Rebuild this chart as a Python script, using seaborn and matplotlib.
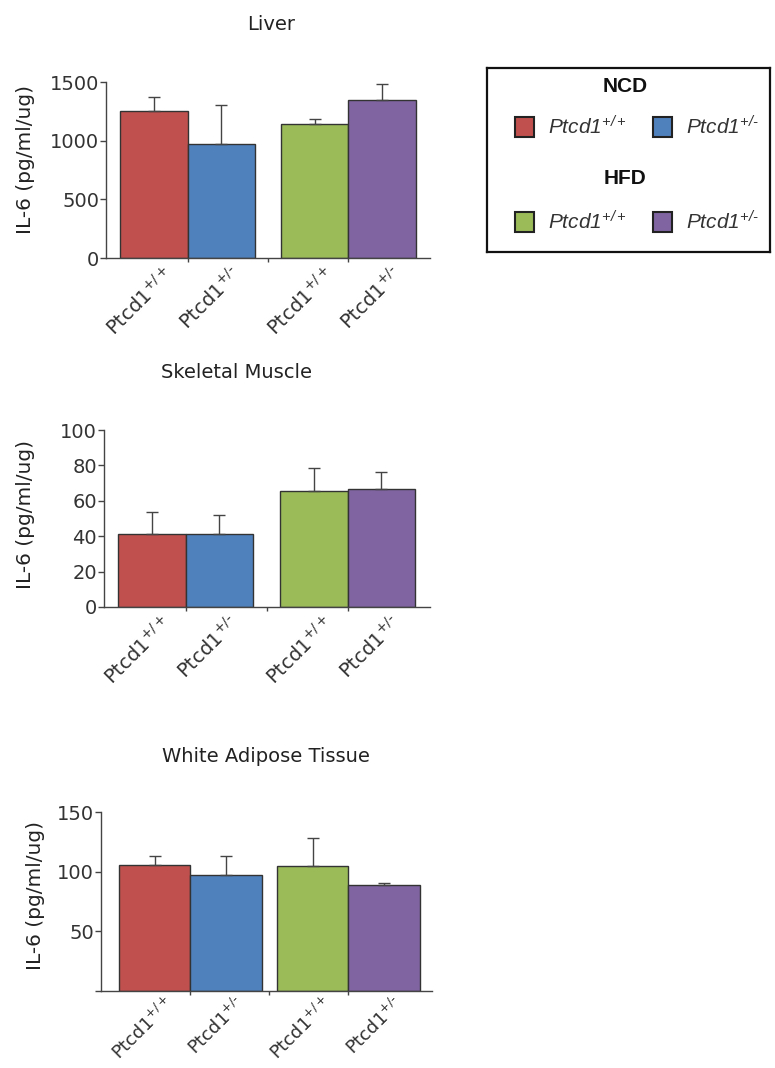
import matplotlib
matplotlib.use("Agg")
import matplotlib.pyplot as plt
import matplotlib.transforms as mtransforms
from matplotlib.patches import Rectangle
import numpy as np
import pandas as pd
import seaborn as sns

# ---------------- data ----------------
groups = ["NCD", "NCD", "HFD", "HFD"]
genotypes = ["+/+", "+/\u2010", "+/+", "+/\u2010"]
categories = ["NCD Ptcd1+/+", "NCD Ptcd1+/-", "HFD Ptcd1+/+", "HFD Ptcd1+/-"]
colors = ["#C0504D", "#4F81BD", "#9BBB59", "#8064A2"]

liver_mean = [1250, 972, 1142, 1347]
liver_err = [122, 329, 46, 136]
muscle_mean = [41.3, 41.3, 65.8, 66.9]
muscle_err = [12.6, 10.9, 12.9, 9.4]
wat_mean = [105.9, 97.0, 104.5, 88.7]
wat_err = [7.6, 15.9, 23.5, 1.8]

liver_ticks = [0, 500, 1000, 1500]
muscle_ticks = [0, 20, 40, 60, 80, 100]
wat_ticks = [0, 50, 100, 150]
wat_ticklabels = ["", "50", "100", "150"]

# ---------------- style ----------------
sns.set_theme(style="white")
plt.rcParams["font.family"] = ["DejaVu Sans"]
plt.rcParams["mathtext.fontset"] = "custom"
plt.rcParams["mathtext.rm"] = "DejaVu Sans"
plt.rcParams["mathtext.it"] = "Liberation Sans:italic"
plt.rcParams["mathtext.sf"] = "Liberation Sans:italic"
plt.rcParams["mathtext.bf"] = "Liberation Sans:bold"

W, H = 775, 1068
fig = plt.figure(figsize=(W / 100, H / 100), dpi=100)

def frac_rect(left, top, right, bottom):
    return [left / W, 1 - bottom / H, (right - left) / W, (bottom - top) / H]

panels = [
    dict(title="Liver", mean=liver_mean, err=liver_err, ylim=(0, 1500),
         ticks=liver_ticks, ticklabels=[str(t) for t in liver_ticks],
         rect=frac_rect(106, 82, 430, 258), gap=1.385, pad_l=0.21, pad_r=0.21,
         title_xy=(271, 24), ylab=(35, 0.557), xfs=14, xpad=4),
    dict(title="Skeletal Muscle", mean=muscle_mean, err=muscle_err, ylim=(0, 100),
         ticks=muscle_ticks, ticklabels=[str(t) for t in muscle_ticks],
         rect=frac_rect(104, 430, 430, 607), gap=1.4, pad_l=0.21, pad_r=0.22,
         title_xy=(237, 372), ylab=(35, 0.52), xfs=14, xpad=4),
    dict(title="White Adipose Tissue", mean=wat_mean, err=wat_err, ylim=(0, 150),
         ticks=wat_ticks, ticklabels=wat_ticklabels,
         rect=frac_rect(101, 812, 432, 991), gap=1.21, pad_l=0.25, pad_r=0.17,
         title_xy=(266, 757), ylab=(45, 0.533), xfs=13, xpad=2),
]

axis_col = "#444444"
text_col = "#333333"

for p in panels:
    ax = fig.add_axes(p["rect"])
    pos = [0, 1, 1 + p["gap"], 2 + p["gap"]]
    df = pd.DataFrame({"pos": pos, "value": p["mean"], "cat": categories})
    sns.barplot(data=df, x="pos", y="value", hue="cat", palette=colors,
                hue_order=categories, native_scale=True, width=1.0,
                dodge=False, legend=False, errorbar=None,
                edgecolor="#333333", linewidth=1.0, saturation=1, ax=ax)
    ax.errorbar(pos, p["mean"], yerr=[np.zeros(4), p["err"]], fmt="none",
                ecolor="#444444", elinewidth=1.0, capsize=4, capthick=1.0, zorder=1)
    ax.set_xlim(-0.5 - p["pad_l"], pos[-1] + 0.5 + p["pad_r"])
    ax.set_ylim(*p["ylim"])
    ax.set_yticks(p["ticks"])
    ax.set_yticklabels(p["ticklabels"], fontsize=14, color=text_col)
    ax.tick_params(axis="y", direction="out", length=4, width=1, color=axis_col, pad=1,
                   left=True)
    labels = [r"$\mathrm{Ptcd1}^{" + g + "}$" for g in genotypes]
    ax.set_xticks(pos)
    ax.set_xticklabels(labels, rotation=45, ha="right", rotation_mode="anchor",
                       fontsize=p["xfs"], color=text_col)
    ax.tick_params(axis="x", length=0, pad=p["xpad"])
    ax.set_xticks([0.5, (pos[1] + pos[2]) / 2, pos[2] + 0.5], minor=True)
    ax.tick_params(axis="x", which="minor", direction="out", length=3, width=1,
                   color=axis_col, bottom=True)
    offset = mtransforms.ScaledTranslation(9 / 100, 0, fig.dpi_scale_trans)
    for lab in ax.get_xticklabels():
        lab.set_transform(lab.get_transform() + offset)
    for s in ["top", "right"]:
        ax.spines[s].set_visible(False)
    for s in ["left", "bottom"]:
        ax.spines[s].set_color(axis_col)
        ax.spines[s].set_linewidth(1.0)
    ax.set_xlabel("")
    ax.set_ylabel("IL-6 (pg/ml/ug)", fontsize=14.5, color="#222222")
    left_px = p["rect"][0] * W
    width_px = p["rect"][2] * W
    ax.yaxis.set_label_coords((p["ylab"][0] - left_px) / width_px, p["ylab"][1])
    fig.text(p["title_xy"][0] / W, 1 - p["title_xy"][1] / H, p["title"],
             ha="center", va="center", fontsize=14, color="#222222")

# ---------------- legend ----------------
lax = fig.add_axes(frac_rect(487, 68, 770, 252))
lax.set_xlim(0, 1)
lax.set_ylim(0, 1)
lax.set_xticks([])
lax.set_yticks([])
for s in lax.spines.values():
    s.set_visible(True)
    s.set_linewidth(1.6)
    s.set_color("#111111")

leg_font = ["Liberation Sans", "DejaVu Sans"]
lax.text(0.488, 0.897, "NCD", ha="center", va="center", fontsize=15,
         fontweight="bold", family=leg_font, color="#111111")
lax.text(0.488, 0.402, "HFD", ha="center", va="center", fontsize=15,
         fontweight="bold", family=leg_font, color="#111111")
row_y = [0.679, 0.679, 0.163, 0.163]
sq_x = [0.099, 0.587, 0.099, 0.587]
sq_w = 0.066
sq_h = 0.109
for i in range(4):
    lax.add_patch(Rectangle((sq_x[i], row_y[i] - sq_h / 2), sq_w, sq_h,
                            facecolor=colors[i], edgecolor="#222222", linewidth=1.5))
    lax.text(sq_x[i] + sq_w + 0.05, row_y[i],
             r"$\mathsf{Ptcd1}^{\mathsf{" + genotypes[i] + "}}$",
             ha="left", va="center", fontsize=15, color="#333333")

fig.savefig("out.png", dpi=100)
